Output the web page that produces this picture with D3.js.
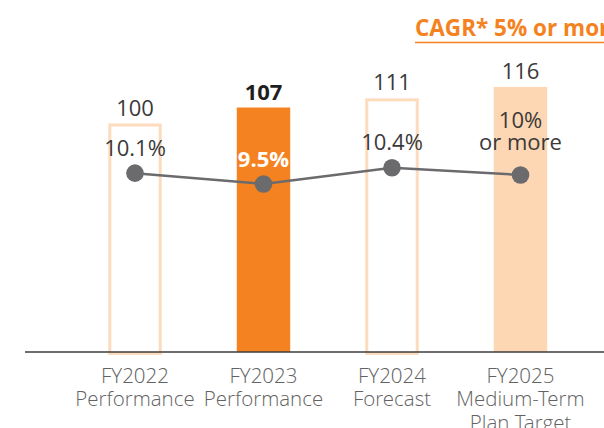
<!DOCTYPE html>
<html>
<head>
<meta charset="utf-8">
<script src="https://cdn.jsdelivr.net/npm/d3@7"></script>
<style>
  html, body { margin: 0; padding: 0; background: #fff; }
  svg { display: block; font-family: "Open Sans", "Noto Sans", sans-serif; }
  .axis-label { font-family: "Open Sans Light", "Open Sans", "Noto Sans", sans-serif; }
</style>
</head>
<body>
<svg id="chart"></svg>
<script>
const categories = [
  ["FY2022", "Performance"],
  ["FY2023", "Performance"],
  ["FY2024", "Forecast"],
  ["FY2025", "Medium-Term", "Plan Target"]
]
const status = ["actual", "current", "forecast", "target"]
const salesIndex = [100, 107, 111, 116]
const marginValues = [10.1, 9.5, 10.4, 10.0]
const marginLabels = [["10.1%"], ["9.5%"], ["10.4%"], ["10%", "or more"]]
const cagrLabel = "CAGR* 5% or more"

const width = 604, height = 428
const orange = "#f58220", lightOrange = "#fdd6b3", outline = "#fddbbd"

const svg = d3.select('#chart')
  .attr('width', width)
  .attr('height', height)

const rows = categories.map((c, i) => ({
  key: c[0], lines: c, status: status[i],
  value: salesIndex[i], margin: marginValues[i], marginLabel: marginLabels[i]
}))

const x = d3.scaleBand()
  .domain(rows.map(d => d.key))
  .range([70.75, 584.75])
  .paddingInner(0.584)
  .paddingOuter(0.292)

const y = d3.scaleLinear().domain([0, 120]).range([352, 77.8])
const yMargin = d3.scaleLinear().domain([9.5, 10.4]).range([184, 167.7])

// bars
const bars = svg.append('g').attr('class', 'bars')

bars.selectAll('rect.outline')
  .data(rows.filter(d => d.status === 'actual' || d.status === 'forecast'))
  .join('rect')
  .attr('class', 'outline')
  .attr('x', d => x(d.key) + 1.5)
  .attr('y', d => y(d.value) + 1.5)
  .attr('width', x.bandwidth() - 3)
  .attr('height', d => y(0) - y(d.value))
  .attr('fill', 'none')
  .attr('stroke', outline)
  .attr('stroke-width', 3)

bars.selectAll('rect.filled')
  .data(rows.filter(d => d.status === 'current' || d.status === 'target'))
  .join('rect')
  .attr('class', 'filled')
  .attr('x', d => x(d.key))
  .attr('y', d => y(d.value))
  .attr('width', x.bandwidth())
  .attr('height', d => y(0) - y(d.value))
  .attr('fill', d => d.status === 'current' ? orange : lightOrange)

// value labels
svg.append('g').selectAll('text')
  .data(rows)
  .join('text')
  .attr('x', d => x(d.key) + x.bandwidth() / 2)
  .attr('y', d => y(d.value) - 8)
  .attr('text-anchor', 'middle')
  .style('font-size', '22px')
  .style('font-weight', d => d.status === 'current' ? 700 : 400)
  .attr('fill', d => d.status === 'current' ? '#1e1e1e' : '#3a3a3a')
  .text(d => d.value)

// axis
const axis = svg.append('g')
  .attr('transform', `translate(0,${y(0)})`)
  .call(d3.axisBottom(x).tickSize(0).tickFormat(''))

axis.select('.domain')
  .attr('d', `M25,0H${width}`)
  .attr('stroke', '#3c3c3c')
  .attr('stroke-width', 1.5)

axis.selectAll('.tick').each(function (key) {
  const row = rows.find(r => r.key === key)
  d3.select(this).append('text')
    .attr('class', 'axis-label')
    .attr('text-anchor', 'middle')
    .attr('fill', '#626262')
    .style('font-size', '20.5px')
    .style('font-weight', 300)
    .selectAll('tspan')
    .data(row.lines)
    .join('tspan')
    .attr('x', 0)
    .attr('y', (d, i) => 30.5 + i * 23.5)
    .text(d => d)
})

// margin line
const cx = d => x(d.key) + x.bandwidth() / 2

svg.append('path')
  .datum(rows)
  .attr('fill', 'none')
  .attr('stroke', '#6b6b6e')
  .attr('stroke-width', 2.5)
  .attr('d', d3.line().x(cx).y(d => yMargin(d.margin)))

svg.append('g').selectAll('circle')
  .data(rows)
  .join('circle')
  .attr('cx', cx)
  .attr('cy', d => yMargin(d.margin))
  .attr('r', 8.8)
  .attr('fill', '#6b6b6e')

const marginText = svg.append('g').selectAll('text')
  .data(rows)
  .join('text')
  .attr('text-anchor', 'middle')
  .style('font-size', '22px')
  .style('font-weight', d => d.status === 'current' ? 700 : 400)
  .attr('fill', d => d.status === 'current' ? '#fff' : '#3a3a3a')

marginText.selectAll('tspan')
  .data(d => d.marginLabel.map((t, i, a) => ({t, row: d, off: (a.length - 1 - i) * 22})))
  .join('tspan')
  .attr('x', d => cx(d.row))
  .attr('y', d => yMargin(d.row.margin) - (d.row.marginLabel.length > 1 ? 25 : 17.5) - d.off)
  .text(d => d.t)

// CAGR note
svg.append('text')
  .attr('x', 415)
  .attr('y', 36)
  .attr('fill', orange)
  .style('font-size', '22.5px')
  .style('font-weight', 700)
  .text(cagrLabel)

svg.append('line')
  .attr('x1', 415).attr('x2', width)
  .attr('y1', 42.5).attr('y2', 42.5)
  .attr('stroke', orange)
  .attr('stroke-width', 1.6)
</script>
</body>
</html>
